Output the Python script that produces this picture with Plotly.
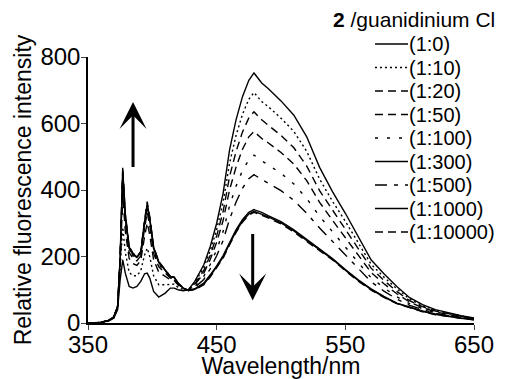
import plotly.graph_objects as go

# Wavelength grid (nm)
wavelength = [350, 360, 366, 370, 373, 375, 377, 379, 382, 385, 388, 391, 394, 396, 398, 401, 405,
              410, 414, 417, 420, 424, 428, 433, 440, 445, 450, 455, 460, 465, 470, 475, 479,
              485, 490, 500, 510, 520, 530, 540, 550, 560, 570, 580, 590, 600, 610, 620, 630, 640, 650]

# Relative fluorescence intensity, one list per 2 / guanidinium Cl ratio
r_1_0 = [0, 2, 6, 14, 40, 130, 190, 150, 110, 105, 110, 125, 148, 150, 135, 95, 78, 90, 105, 105, 100, 97, 100,
         125, 175, 230, 300, 390, 520, 610, 680, 730, 752, 722, 705, 668, 625, 560, 468, 395, 330, 262, 190,
         148, 110, 76, 55, 40, 30, 22, 15]
r_1_10 = [0, 2, 7, 15, 44, 155, 288, 213, 152, 142, 142, 157, 205, 225, 200, 142, 115, 115, 117, 117, 107, 100, 99,
          122, 167, 217, 281, 363, 480, 563, 627, 673, 693, 666, 651, 616, 576, 516, 433, 366, 306, 243, 177,
          138, 103, 72, 52, 38, 29, 21, 14]
r_1_20 = [0, 2, 7, 17, 47, 179, 386, 276, 194, 179, 173, 188, 261, 301, 265, 190, 153, 139, 130, 128, 114, 103, 99,
          118, 158, 204, 262, 335, 440, 515, 574, 617, 635, 611, 596, 564, 527, 472, 398, 338, 282, 224, 165,
          128, 95, 67, 49, 36, 27, 20, 14]
r_1_50 = [0, 2, 8, 17, 49, 190, 428, 303, 212, 194, 187, 202, 286, 333, 292, 210, 169, 150, 135, 133, 117, 104, 98,
          115, 150, 191, 243, 308, 400, 468, 522, 560, 576, 555, 542, 513, 478, 428, 363, 309, 257, 205, 152,
          118, 88, 63, 46, 34, 25, 19, 13]
r_1_100 = [0, 2, 8, 18, 49, 194, 448, 316, 220, 202, 193, 208, 297, 348, 305, 219, 176, 154, 137, 135, 118, 104, 98,
           110, 140, 176, 220, 275, 352, 411, 458, 491, 505, 488, 476, 450, 418, 374, 321, 274, 228, 182, 136,
           106, 79, 58, 43, 31, 24, 17, 12]
r_1_300 = [0, 2, 8, 18, 49, 195, 452, 318, 224, 205, 197, 211, 300, 350, 310, 224, 182, 158, 139, 137, 119, 105, 99,
           103, 120, 145, 172, 203, 243, 280, 311, 333, 341, 333, 323, 305, 280, 251, 223, 194, 161, 130, 103,
           80, 60, 47, 36, 27, 20, 15, 11]
r_1_500 = [0, 2, 8, 18, 50, 198, 445, 320, 226, 207, 197, 212, 305, 355, 314, 226, 182, 158, 139, 137, 119, 105, 98,
           107, 131, 163, 202, 248, 312, 363, 405, 434, 446, 432, 421, 398, 369, 330, 286, 245, 204, 163, 124,
           96, 72, 53, 40, 29, 22, 16, 11]
r_1_1000 = [0, 2, 8, 18, 50, 198, 462, 325, 228, 208, 199, 213, 306, 358, 316, 228, 184, 159, 140, 138, 120, 105, 98,
            101, 117, 141, 168, 198, 238, 275, 306, 328, 336, 328, 319, 301, 277, 248, 220, 192, 159, 128, 101,
            78, 59, 46, 35, 26, 19, 14, 10]
r_1_10000 = [0, 2, 8, 18, 50, 200, 470, 330, 230, 210, 200, 215, 310, 365, 320, 230, 185, 160, 140, 138, 120, 105, 98,
             100, 115, 138, 165, 195, 235, 272, 303, 325, 333, 325, 316, 298, 274, 245, 218, 190, 157, 126, 99,
             77, 58, 45, 34, 25, 19, 14, 10]

series_names = ["(1:0)", "(1:10)", "(1:20)", "(1:50)", "(1:100)", "(1:300)", "(1:500)", "(1:1000)", "(1:10000)"]
series_values = [r_1_0, r_1_10, r_1_20, r_1_50, r_1_100, r_1_300, r_1_500, r_1_1000, r_1_10000]
series_dash = ["solid", "2px,3px", "8px,5px", "8px,5px", "3px,9px", "solid", "12px,7px,4px,7px", "solid", "8px,5px"]

x_ticks = [350, 450, 550, 650]
y_ticks = [0, 200, 400, 600, 800]

FONT = "Arial, Liberation Sans, Helvetica, sans-serif"

fig = go.Figure()
for name, vals, dash in zip(series_names, series_values, series_dash):
    fig.add_trace(go.Scatter(x=wavelength, y=vals, mode="lines", name=name,
                             line=dict(color="black", width=1.4, dash=dash), showlegend=False))

# The page body has an 8px default margin; size the figure so it fits the window.
OFF = 8
W, H = 516, 371
L, R, T, B = 80, 50, 49, 56
pw, ph = W - L - R, H - T - B
def px2paper_x(px):  # px: window pixel
    return (px - OFF - L) / pw
def px2paper_y(py):
    return (H - B - (py - OFF)) / ph

fig.add_annotation(x=px2paper_x(331), y=px2paper_y(20), xref="paper", yref="paper",
                   text="<b>2</b> /guanidinium Cl", showarrow=False, xanchor="left", yanchor="middle",
                   font=dict(size=21, color="black", family=FONT))
for i, (name, dash) in enumerate(zip(series_names, series_dash)):
    yy = 44 + 23.5 * i
    fig.add_shape(type="line", xref="paper", yref="paper",
                  x0=px2paper_x(375), x1=px2paper_x(408), y0=px2paper_y(yy), y1=px2paper_y(yy),
                  line=dict(color="black", width=1.4, dash=dash))
    fig.add_annotation(x=px2paper_x(407), y=px2paper_y(yy), xref="paper", yref="paper",
                       text=name, showarrow=False, xanchor="left", yanchor="middle",
                       font=dict(size=20, color="black", family=FONT))

# Arrows
fig.add_annotation(x=385, y=665, ax=385, ay=465, xref="x", yref="y", axref="x", ayref="y",
                   showarrow=True, arrowhead=3, arrowwidth=3, arrowsize=1.5, arrowcolor="black", text="")
fig.add_annotation(x=478, y=68, ax=478, ay=272, xref="x", yref="y", axref="x", ayref="y",
                   showarrow=True, arrowhead=3, arrowwidth=3, arrowsize=1.5, arrowcolor="black", text="")

fig.update_layout(
    width=W, height=H,
    margin=dict(l=L, r=R, t=T, b=B, pad=0, autoexpand=False),
    paper_bgcolor="white", plot_bgcolor="white",
    font=dict(family=FONT, color="black", size=24),
    showlegend=False,
)
fig.update_xaxes(range=[350, 650], tickvals=x_ticks, ticks="outside", ticklen=5, tickwidth=1.3,
                 showline=True, linecolor="black", linewidth=1.5, showgrid=False, zeroline=False,
                 automargin=False, ticklabelstandoff=-6,
                 tickfont=dict(size=24), title=dict(text="Wavelength/nm", font=dict(size=23), standoff=0))
fig.update_yaxes(range=[0, 800], tickvals=y_ticks, ticks="outside", ticklen=5, tickwidth=1.3,
                 showline=True, linecolor="black", linewidth=1.5, showgrid=False, zeroline=False,
                 automargin=False, ticklabelstandoff=-4,
                 tickfont=dict(size=24), title=dict(text="Relative fluorescence intensity", font=dict(size=23), standoff=2))

fig.write_html("out.html")
